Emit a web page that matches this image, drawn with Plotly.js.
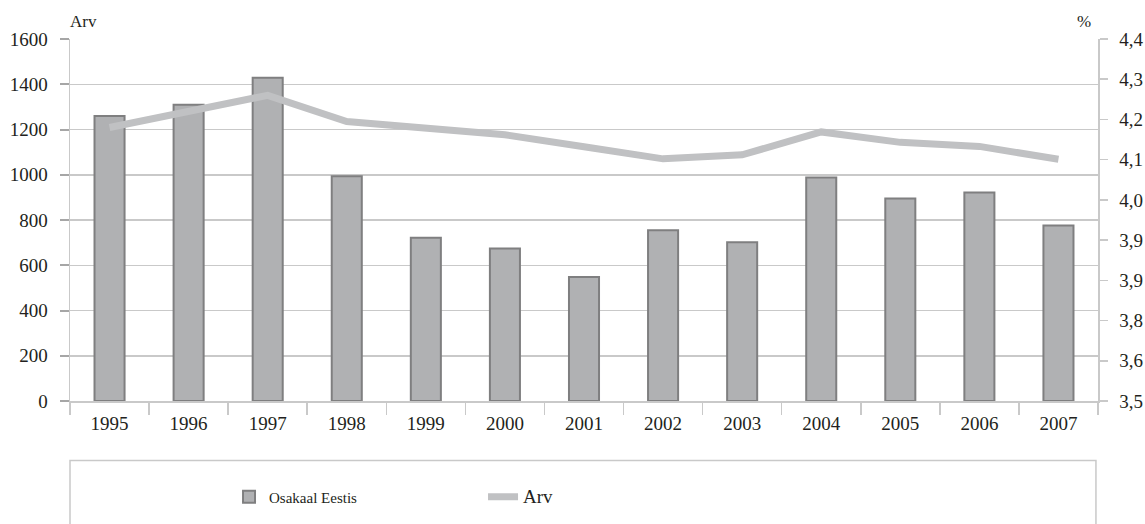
<!DOCTYPE html>
<html>
<head>
<meta charset="utf-8">
<script src="https://cdn.plot.ly/plotly-3.0.1.min.js"></script>
<style>html,body{margin:0;padding:0;background:#fff;}#chart{width:1145px;height:524px;}</style>
</head>
<body>
<div id="chart"></div>
<script>
const years = ['1995','1996','1997','1998','1999','2000','2001','2002','2003','2004','2005','2006','2007'];
const barValues = [1260, 1309, 1429, 993, 721, 674, 548, 755, 702, 988, 895, 921, 776];
const lineValues = [4.18, 4.22, 4.26, 4.195, 4.178, 4.162, 4.132, 4.102, 4.112, 4.169, 4.143, 4.133, 4.101];
const rightTickVals = [3.5, 3.6, 3.7, 3.8, 3.9, 4.0, 4.1, 4.2, 4.3, 4.4];
const rightTickText = ['3,5', '3,6', '3,8', '3,9', '3,9', '4,0', '4,1', '4,2', '4,3', '4,4'];
const barName = 'Osakaal Eestis';
const lineName = 'Arv';
const leftTitle = 'Arv';
const rightTitle = '%';

const FONT = 'Liberation Serif';
const TXT = '#231f20';
const GRID = '#c9c9c9';

const traces = [
  {
    type: 'bar', x: years, y: barValues, name: barName,
    marker: {color: '#b0b1b3', line: {color: '#7f7f80', width: 2}},
    yaxis: 'y', hoverinfo: 'x+y'
  },
  {
    type: 'scatter', mode: 'lines', x: years, y: lineValues,
    name: '<span style="font-size:19px">' + lineName + '</span>',
    line: {color: '#c0c1c3', width: 7}, yaxis: 'y2'
  }
];

const layout = {
  width: 1145, height: 524,
  margin: {l: 70, r: 47, t: 39, b: 122},
  paper_bgcolor: '#fff', plot_bgcolor: '#fff',
  font: {family: FONT, color: TXT, size: 18},
  bargap: 0.62,
  showlegend: true,
  legend: {
    orientation: 'h', x: 0.1547, xanchor: 'left', y: -0.262, yanchor: 'middle',
    font: {family: FONT, size: 15, color: TXT}, entrywidth: 209, entrywidthmode: 'pixels',
    bgcolor: 'rgba(0,0,0,0)', traceorder: 'normal'
  },
  xaxis: {
    type: 'category', showgrid: false, showline: true, linecolor: GRID, linewidth: 1.5,
    ticks: 'outside', tickson: 'boundaries', ticklen: 12, tickcolor: GRID, tickwidth: 1.5,
    ticklabelstandoff: 5,
    tickfont: {family: FONT, size: 19, color: TXT}, fixedrange: true
  },
  yaxis: {
    range: [0, 1600], dtick: 200, tick0: 0, showgrid: true, gridcolor: GRID, gridwidth: 1.5,
    showline: true, linecolor: GRID, linewidth: 1.5, zeroline: false,
    ticks: 'outside', ticklen: 9, tickcolor: '#a6a6a6', tickwidth: 2,
    ticklabelstandoff: 8,
    tickfont: {family: FONT, size: 19, color: TXT}, fixedrange: true
  },
  yaxis2: {
    overlaying: 'y', side: 'right', range: [3.5, 4.4],
    tickvals: rightTickVals, ticktext: rightTickText, showgrid: false, zeroline: false,
    showline: true, linecolor: GRID, linewidth: 1.5,
    ticks: 'outside', ticklen: 8, tickcolor: GRID, tickwidth: 1.5,
    ticklabelstandoff: 8,
    tickfont: {family: FONT, size: 19, color: TXT}, fixedrange: true
  },
  shapes: [
    {type: 'rect', xref: 'paper', yref: 'paper', x0: 0, x1: 0.998, y0: -0.1645, y1: -0.36,
     line: {color: GRID, width: 1.5}, fillcolor: 'rgba(0,0,0,0)', layer: 'below'}
  ],
  annotations: [
    {xref: 'paper', yref: 'paper', x: 0, y: 1, xanchor: 'left', yanchor: 'bottom', yshift: 6, xshift: -2,
     text: leftTitle, showarrow: false, font: {family: FONT, size: 17, color: TXT}},
    {xref: 'paper', yref: 'paper', x: 0.995, y: 1, xanchor: 'right', yanchor: 'bottom', yshift: 6,
     text: rightTitle, showarrow: false, font: {family: FONT, size: 17, color: TXT}}
  ]
};

Plotly.newPlot('chart', traces, layout, {displayModeBar: false, staticPlot: true});
</script>
</body>
</html>
